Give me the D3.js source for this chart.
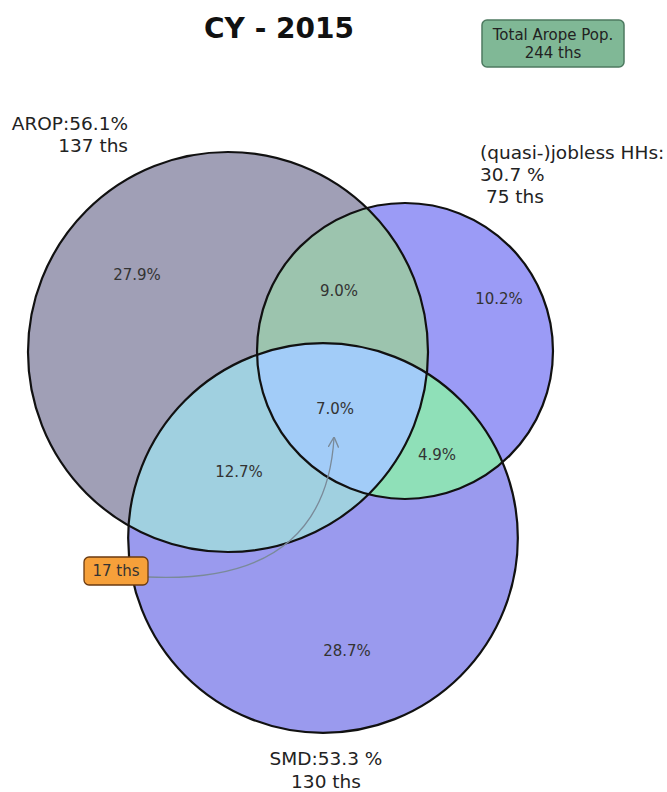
<!DOCTYPE html>
<html><head><meta charset="utf-8">
<script src="https://cdn.jsdelivr.net/npm/d3@7"></script>
<style>body{margin:0;background:#fff}svg{display:block}text{font-family:"DejaVu Sans",sans-serif}</style>
</head><body><svg id="c" width="667" height="792"></svg>
<script>
// ---- data ----
const title = "CY - 2015";
const setNames = ["AROP", "(quasi-)jobless HHs", "SMD"];
const setPct = [56.1, 30.7, 53.3];
const setThs = [137, 75, 130];
const regionKeys = ["A", "B", "C", "AB", "AC", "BC", "ABC"];
const regionPct = [27.9, 10.2, 28.7, 9.0, 12.7, 4.9, 7.0];
const totalThs = 244;
const centerThs = 17;

// ---- layout ----
const svg = d3.select("#c");
const rScale = d3.scaleSqrt().domain([0, 137]).range([0, 200]);
const centers = [[228, 352], [405, 351], [323, 538]];
const circles = setThs.map((v, i) => ({cx: centers[i][0], cy: centers[i][1], r: rScale(v)}));
const colors = {A:"#a09fb6", B:"#9b9bf6", C:"#9a9aee", AB:"#9cc4ae", AC:"#a0d0e0", BC:"#8fe0b8", ABC:"#a2ccf8"};

const defs = svg.append("defs");
circles.forEach((c, i) => {
  defs.append("clipPath").attr("id", "clip" + i)
    .append("circle").attr("cx", c.cx).attr("cy", c.cy).attr("r", c.r);
});
const fills = svg.append("g");
const circ = (g, i, col) => g.append("circle").attr("cx", circles[i].cx).attr("cy", circles[i].cy).attr("r", circles[i].r).attr("fill", col);
circ(fills, 0, colors.A);
circ(fills, 1, colors.B);
circ(fills, 2, colors.C);
circ(fills.append("g").attr("clip-path", "url(#clip0)"), 1, colors.AB);
circ(fills.append("g").attr("clip-path", "url(#clip0)"), 2, colors.AC);
circ(fills.append("g").attr("clip-path", "url(#clip1)"), 2, colors.BC);
circ(fills.append("g").attr("clip-path", "url(#clip0)").append("g").attr("clip-path", "url(#clip1)"), 2, colors.ABC);

svg.append("g").selectAll("circle").data(circles).join("circle")
  .attr("cx", d => d.cx).attr("cy", d => d.cy).attr("r", d => d.r)
  .attr("fill", "none").attr("stroke", "#111").attr("stroke-width", 2.2);

// region labels
const regionPos = {A:[137,275], B:[499,299], C:[347,651], AB:[339,291], AC:[239,472], BC:[437,455], ABC:[335,409]};
svg.append("g").selectAll("text").data(regionKeys).join("text")
  .attr("x", d => regionPos[d][0]).attr("y", d => regionPos[d][1])
  .attr("text-anchor", "middle").attr("dominant-baseline", "central")
  .attr("font-size", 15).attr("fill", "#333")
  .text((d, i) => regionPct[i].toFixed(1) + "%");

// title
svg.append("text").attr("x", 279).attr("y", 38).attr("text-anchor", "middle")
  .attr("font-size", 28).attr("font-weight", "bold").attr("fill", "#111").text(title);

// set labels
function lines(x, y, arr, anchor, lh) {
  const t = svg.append("text").attr("font-size", 18.5).attr("fill", "#222").attr("text-anchor", anchor)
    .attr("xml:space", "preserve");
  arr.forEach((s, i) => t.append("tspan").attr("x", x).attr("y", y + i * lh).text(s));
}
lines(128, 130, [setNames[0] + ":" + setPct[0].toFixed(1) + "%", setThs[0] + " ths"], "end", 22);
lines(480, 159, [setNames[1] + ":", setPct[1].toFixed(1) + " %", " " + setThs[1] + " ths"], "start", 22);
lines(326, 765, [setNames[2] + ":" + setPct[2].toFixed(1) + " %", setThs[2] + " ths"], "middle", 23);

// total box
svg.append("rect").attr("x", 482).attr("y", 20).attr("width", 142).attr("height", 47).attr("rx", 5)
  .attr("fill", "#80b896").attr("stroke", "#4d7a60").attr("stroke-width", 1.5);
const tt = svg.append("text").attr("font-size", 15).attr("fill", "#222").attr("text-anchor", "middle");
tt.append("tspan").attr("x", 553).attr("y", 40).text("Total Arope Pop.");
tt.append("tspan").attr("x", 553).attr("y", 58).text(totalThs + " ths");

// arrow
defs.append("marker").attr("id", "ah").attr("viewBox", "0 0 10 10").attr("refX", 9).attr("refY", 5)
  .attr("markerWidth", 8).attr("markerHeight", 8).attr("orient", "auto")
  .append("path").attr("d", "M0,0 L10,5 L0,10").attr("fill", "none").attr("stroke", "#7a8a99").attr("stroke-width", 1.3);
svg.append("path").attr("d", "M148,577 Q325,585 334,438").attr("fill", "none")
  .attr("stroke", "#7a8a99").attr("stroke-width", 1.3).attr("marker-end", "url(#ah)");

svg.append("rect").attr("x", 84).attr("y", 557).attr("width", 64).attr("height", 28).attr("rx", 5)
  .attr("fill", "#f6a03a").attr("stroke", "#6b3a10").attr("stroke-width", 1.3);
svg.append("text").attr("x", 116).attr("y", 571).attr("text-anchor", "middle").attr("dominant-baseline", "central")
  .attr("font-size", 15).attr("fill", "#333").text(centerThs + " ths");
</script></body></html>
